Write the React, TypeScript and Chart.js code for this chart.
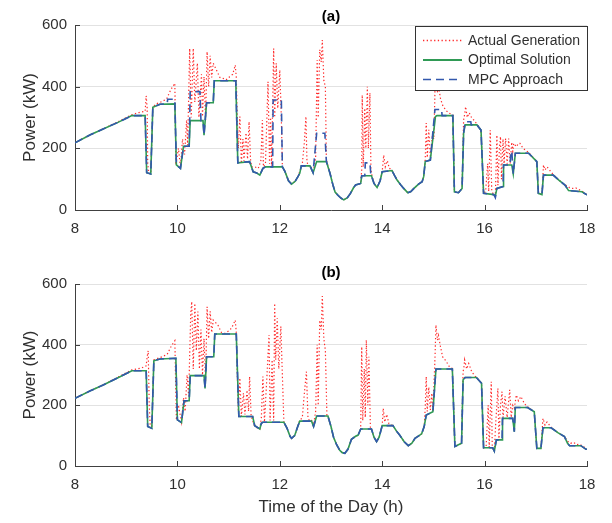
import React, { useEffect, useRef } from "react";
import { Chart, registerables } from "chart.js";
Chart.register(...registerables);

const FONT = "'Liberation Sans', Arial, Helvetica, sans-serif";
const AXIS = "#404040";
const TEXT = "#303030";
const GRID = "#e2e2e2";
const RED = "#ff2a2a";
const GREEN = "#2f9a55";
const BLUE = "#3358ad";

const xTicks = [8, 10, 12, 14, 16, 18];
const yTicks = [0, 200, 400, 600];
const legendLabels = ["Actual Generation", "Optimal Solution", "MPC Approach"];
const panelTitles = ["(a)", "(b)"];
const yTitle = "Power (kW)";
const xTitle = "Time of the Day (h)";

// ---- Panel (a): [time h, power kW]
const optimalA: [number, number][] = [
  [8.0, 218], [8.3, 244], [8.55, 263], [8.85, 285], [9.11, 306], [9.37, 306], [9.4, 121], [9.48, 117],
  [9.52, 333], [9.66, 343], [9.95, 344], [9.98, 146], [10.06, 135], [10.12, 207], [10.23, 207],
  [10.25, 290], [10.5, 290], [10.52, 243], [10.57, 348], [10.7, 348], [10.72, 419], [11.14, 419],
  [11.18, 153], [11.41, 157], [11.48, 124], [11.55, 120], [11.61, 113], [11.67, 135], [11.72, 140],
  [12.05, 140], [12.1, 125], [12.17, 95], [12.23, 84], [12.3, 93], [12.36, 110], [12.39, 119],
  [12.42, 143], [12.59, 143], [12.65, 121], [12.72, 157], [12.91, 157], [12.98, 119], [13.04, 80],
  [13.08, 58], [13.14, 47], [13.2, 38], [13.25, 33], [13.32, 40], [13.38, 54], [13.44, 72], [13.48, 81],
  [13.58, 86], [13.6, 111], [13.79, 111], [13.84, 86], [13.9, 73], [13.96, 95], [14.0, 124], [14.19, 128],
  [14.24, 112], [14.29, 97], [14.36, 82], [14.42, 70], [14.5, 56], [14.56, 60], [14.62, 70], [14.71, 84],
  [14.78, 92], [14.81, 108], [14.84, 157], [14.94, 162], [15.04, 303], [15.07, 306], [15.38, 306],
  [15.41, 59], [15.49, 56], [15.56, 70], [15.59, 249], [15.62, 276], [15.85, 276], [15.93, 259],
  [15.98, 54], [16.18, 50], [16.21, 45], [16.24, 70], [16.36, 76], [16.37, 146], [16.53, 146],
  [16.56, 117], [16.6, 184], [16.86, 184], [17.02, 157], [17.05, 54], [17.12, 50], [17.15, 113],
  [17.34, 113], [17.45, 97], [17.57, 81], [17.64, 63], [17.9, 59], [18.0, 49],
];

const mpcA: [number, number][] = [
  [8.0, 218], [8.3, 244], [8.55, 263], [8.85, 285], [9.11, 306], [9.37, 306], [9.4, 121], [9.48, 117],
  [9.52, 333], [9.66, 343], [9.8, 344], [9.81, 359], [9.95, 359], [9.98, 146], [10.06, 135],
  [10.12, 207], [10.23, 207], [10.25, 384], [10.44, 384], [10.46, 290], [10.5, 290], [10.52, 243],
  [10.57, 348], [10.7, 348], [10.72, 419], [11.14, 419], [11.18, 153], [11.41, 157], [11.48, 124],
  [11.55, 120], [11.61, 113], [11.67, 135], [11.72, 140], [11.86, 140], [11.87, 357], [12.03, 357],
  [12.05, 140], [12.1, 125], [12.17, 95], [12.23, 84], [12.3, 93], [12.36, 110], [12.39, 119],
  [12.42, 143], [12.59, 143], [12.65, 121], [12.72, 249], [12.88, 249], [12.91, 157], [12.98, 119],
  [13.04, 80], [13.08, 58], [13.14, 47], [13.2, 38], [13.25, 33], [13.32, 40], [13.38, 54], [13.44, 72],
  [13.48, 81], [13.58, 86], [13.6, 111], [13.66, 111], [13.67, 153], [13.76, 153], [13.78, 111],
  [13.79, 111], [13.84, 86], [13.9, 73], [13.96, 95], [14.0, 124], [14.19, 128], [14.24, 112],
  [14.29, 97], [14.36, 82], [14.42, 70], [14.5, 56], [14.56, 60], [14.62, 70], [14.71, 84], [14.78, 92],
  [14.81, 108], [14.84, 157], [14.94, 162], [15.03, 326], [15.16, 326], [15.17, 306], [15.38, 306],
  [15.41, 59], [15.49, 56], [15.56, 70], [15.59, 249], [15.62, 286], [15.73, 286], [15.74, 276],
  [15.85, 276], [15.93, 259], [15.98, 54], [16.18, 50], [16.21, 40], [16.24, 70], [16.36, 76],
  [16.37, 146], [16.5, 146], [16.51, 190], [16.53, 190], [16.55, 146], [16.56, 117], [16.6, 184],
  [16.86, 184], [17.02, 157], [17.05, 54], [17.12, 50], [17.15, 113], [17.34, 113], [17.45, 97],
  [17.57, 81], [17.64, 63], [17.9, 59], [18.0, 49],
];

const actualA: [number, number][] = [
  [8.0, 218], [8.3, 244], [8.55, 263], [8.85, 287], [9.11, 309], [9.25, 316], [9.37, 320], [9.39, 370],
  [9.41, 330], [9.42, 150], [9.44, 121], [9.48, 117], [9.52, 335], [9.6, 345], [9.7, 352], [9.79, 360],
  [9.87, 390], [9.95, 411], [9.97, 146], [10.02, 200], [10.06, 140], [10.1, 230], [10.14, 180],
  [10.18, 292], [10.2, 210], [10.24, 524], [10.27, 300], [10.31, 524], [10.34, 350], [10.39, 476],
  [10.42, 300], [10.47, 440], [10.49, 303], [10.52, 432], [10.55, 292], [10.58, 513], [10.61, 400],
  [10.64, 500], [10.67, 430], [10.7, 476], [10.76, 455], [10.83, 430], [10.89, 427], [10.95, 422],
  [11.02, 432], [11.08, 440], [11.13, 470], [11.15, 430], [11.17, 292], [11.19, 200], [11.22, 303],
  [11.25, 151], [11.28, 230], [11.3, 160], [11.34, 250], [11.37, 165], [11.4, 286], [11.43, 160],
  [11.45, 140], [11.51, 140], [11.58, 135], [11.63, 160], [11.66, 292], [11.68, 140], [11.72, 150],
  [11.77, 416], [11.8, 150], [11.82, 300], [11.84, 140], [11.88, 524], [11.9, 300], [11.93, 476],
  [11.96, 330], [12.0, 454], [12.03, 300], [12.05, 140], [12.1, 125], [12.17, 95], [12.23, 84],
  [12.3, 93], [12.36, 110], [12.39, 125], [12.44, 150], [12.48, 220], [12.51, 303], [12.53, 160],
  [12.55, 143], [12.59, 145], [12.65, 121], [12.7, 170], [12.73, 486], [12.75, 300], [12.78, 520],
  [12.81, 480], [12.83, 551], [12.86, 420], [12.89, 400], [12.91, 162], [12.98, 119], [13.04, 80],
  [13.08, 58], [13.14, 47], [13.2, 38], [13.25, 33], [13.32, 40], [13.38, 54], [13.44, 72], [13.48, 81],
  [13.58, 86], [13.6, 130], [13.61, 373], [13.63, 140], [13.66, 330], [13.68, 200], [13.71, 400],
  [13.73, 200], [13.76, 380], [13.78, 130], [13.8, 111], [13.84, 86], [13.9, 73], [13.96, 95],
  [14.0, 124], [14.03, 178], [14.06, 140], [14.1, 160], [14.14, 135], [14.19, 130], [14.24, 112],
  [14.29, 97], [14.36, 82], [14.42, 70], [14.5, 56], [14.56, 60], [14.62, 70], [14.71, 84], [14.78, 92],
  [14.81, 108], [14.84, 160], [14.86, 282], [14.88, 170], [14.91, 260], [14.94, 170], [14.98, 240],
  [15.01, 230], [15.03, 384], [15.05, 395], [15.08, 384], [15.11, 390], [15.14, 360], [15.18, 340],
  [15.24, 324], [15.3, 315], [15.38, 308], [15.41, 59], [15.49, 56], [15.56, 70], [15.59, 292],
  [15.61, 310], [15.63, 335], [15.66, 300], [15.7, 315], [15.75, 298], [15.8, 290], [15.85, 278],
  [15.93, 259], [15.98, 54], [16.02, 60], [16.06, 150], [16.08, 60], [16.11, 259], [16.14, 60],
  [16.18, 50], [16.21, 45], [16.24, 243], [16.26, 80], [16.29, 200], [16.31, 238], [16.33, 100],
  [16.36, 230], [16.38, 150], [16.41, 232], [16.44, 150], [16.47, 232], [16.5, 150], [16.53, 220],
  [16.55, 190], [16.57, 216], [16.62, 205], [16.66, 216], [16.69, 216], [16.75, 200], [16.86, 186],
  [17.02, 157], [17.05, 54], [17.12, 50], [17.15, 146], [17.18, 130], [17.22, 140], [17.34, 115],
  [17.45, 97], [17.57, 81], [17.62, 78], [17.66, 72], [17.72, 70], [17.78, 72], [17.84, 66],
  [17.9, 62], [18.0, 49],
];

// ---- Panel (b): [time h, power kW]
const optimalB: [number, number][] = [
  [8.0, 223], [8.3, 248], [8.55, 267], [8.85, 292], [9.11, 314], [9.39, 314], [9.42, 130], [9.5, 124],
  [9.54, 347], [9.66, 353], [9.97, 355], [10.0, 152], [10.08, 143], [10.13, 215], [10.23, 215],
  [10.25, 298], [10.52, 298], [10.54, 256], [10.57, 360], [10.71, 360], [10.73, 435], [11.15, 435],
  [11.2, 163], [11.47, 163], [11.51, 133], [11.61, 122], [11.64, 141], [11.67, 144], [12.08, 144],
  [12.14, 125], [12.2, 98], [12.23, 91], [12.29, 100], [12.34, 125], [12.39, 148], [12.62, 148],
  [12.66, 130], [12.72, 165], [12.94, 165], [13.0, 130], [13.05, 95], [13.11, 70], [13.17, 52],
  [13.22, 44], [13.27, 42], [13.33, 55], [13.4, 88], [13.48, 98], [13.53, 102], [13.58, 122],
  [13.79, 122], [13.84, 95], [13.89, 80], [13.94, 95], [14.0, 133], [14.21, 133], [14.28, 115],
  [14.34, 102], [14.43, 80], [14.51, 67], [14.58, 75], [14.64, 91], [14.72, 100], [14.77, 106],
  [14.82, 130], [14.86, 168], [14.99, 179], [15.05, 320], [15.37, 320], [15.42, 64], [15.55, 75],
  [15.58, 284], [15.62, 292], [15.84, 292], [15.94, 273], [15.98, 60], [16.16, 60], [16.19, 49],
  [16.23, 86], [16.34, 86], [16.35, 157], [16.55, 157], [16.58, 113], [16.6, 193], [16.84, 193],
  [16.97, 179], [17.02, 58], [17.1, 58], [17.14, 126], [17.3, 126], [17.43, 110], [17.56, 97],
  [17.62, 75], [17.66, 67], [17.88, 67], [17.98, 55], [18.0, 55],
];

const mpcB: [number, number][] = optimalB;

const actualB: [number, number][] = [
  [8.0, 223], [8.3, 248], [8.55, 267], [8.85, 294], [9.11, 317], [9.3, 323], [9.39, 330], [9.41, 360],
  [9.43, 380], [9.45, 200], [9.47, 130], [9.5, 124], [9.54, 350], [9.7, 360], [9.8, 368], [9.88, 395],
  [9.95, 413], [9.98, 152], [10.02, 201], [10.08, 145], [10.12, 225], [10.15, 180], [10.19, 300],
  [10.22, 230], [10.26, 500], [10.28, 542], [10.31, 320], [10.34, 536], [10.37, 380], [10.4, 509],
  [10.43, 320], [10.46, 450], [10.49, 300], [10.52, 420], [10.55, 280], [10.58, 525], [10.61, 420],
  [10.64, 510], [10.67, 440], [10.7, 481], [10.79, 465], [10.86, 440], [10.92, 437], [11.0, 445],
  [11.06, 455], [11.13, 481], [11.15, 440], [11.17, 300], [11.19, 180], [11.22, 290], [11.25, 163],
  [11.29, 240], [11.32, 170], [11.36, 250], [11.39, 180], [11.41, 295], [11.44, 165], [11.5, 135],
  [11.56, 125], [11.61, 122], [11.64, 160], [11.67, 295], [11.7, 145], [11.75, 300], [11.79, 432],
  [11.81, 150], [11.85, 350], [11.88, 150], [11.9, 536], [11.92, 350], [11.95, 487], [11.98, 320],
  [12.02, 460], [12.05, 300], [12.08, 144], [12.14, 125], [12.2, 98], [12.23, 91], [12.29, 100],
  [12.34, 125], [12.39, 150], [12.44, 160], [12.48, 240], [12.52, 311], [12.55, 160], [12.58, 148],
  [12.62, 150], [12.66, 135], [12.7, 180], [12.73, 400], [12.75, 200], [12.78, 480], [12.81, 450],
  [12.83, 560], [12.86, 420], [12.89, 380], [12.92, 168], [12.94, 165], [13.0, 130], [13.05, 95],
  [13.11, 70], [13.17, 52], [13.22, 44], [13.27, 42], [13.33, 55], [13.4, 88], [13.48, 98],
  [13.53, 102], [13.58, 122], [13.6, 393], [13.62, 150], [13.65, 320], [13.67, 160], [13.69, 415],
  [13.72, 200], [13.74, 360], [13.77, 124], [13.79, 122], [13.84, 95], [13.89, 80], [13.94, 95],
  [14.0, 133], [14.02, 190], [14.05, 145], [14.09, 170], [14.13, 140], [14.21, 133], [14.28, 115],
  [14.34, 102], [14.43, 80], [14.51, 67], [14.58, 75], [14.64, 91], [14.72, 100], [14.77, 106],
  [14.82, 130], [14.84, 190], [14.86, 295], [14.88, 180], [14.91, 260], [14.94, 185], [14.97, 240],
  [14.99, 180], [15.03, 350], [15.05, 465], [15.08, 415], [15.1, 430], [15.13, 400], [15.18, 360],
  [15.25, 345], [15.32, 325], [15.37, 322], [15.42, 64], [15.55, 75], [15.58, 311], [15.6, 330],
  [15.61, 350], [15.65, 320], [15.69, 338], [15.75, 310], [15.82, 295], [15.84, 292], [15.94, 273],
  [15.98, 60], [16.03, 64], [16.07, 200], [16.09, 62], [16.13, 278], [16.15, 60], [16.17, 55],
  [16.19, 49], [16.22, 150], [16.26, 256], [16.28, 90], [16.31, 200], [16.34, 245], [16.36, 160],
  [16.4, 230], [16.44, 160], [16.49, 251], [16.52, 160], [16.55, 200], [16.58, 190], [16.62, 234],
  [16.66, 215], [16.71, 229], [16.78, 205], [16.84, 195], [16.97, 179], [17.02, 58], [17.1, 58],
  [17.14, 157], [17.18, 135], [17.22, 145], [17.3, 128], [17.43, 110], [17.56, 97], [17.62, 82],
  [17.68, 75], [17.74, 78], [17.8, 70], [17.86, 72], [17.92, 64], [18.0, 58],
];

type Series = [number, number][];

interface PanelCfg {
  actual: Series;
  optimal: Series;
  mpc: Series;
  title: string;
  titleY: number;
  padTop: number;
  xAxisHeight: number;
  showLegend: boolean;
  showXTitle: boolean;
  xTitleY: number;
}

const toPts = (s: Series) => s.map(([x, y]) => ({ x, y }));

function makeChart(canvas: HTMLCanvasElement, cfg: PanelCfg) {
  const decor = {
    id: "decor",
    afterDraw(chart: any) {
      const ctx = chart.ctx as CanvasRenderingContext2D;
      const area = chart.chartArea;
      const xs = chart.scales.x;
      const ys = chart.scales.y;
      ctx.save();
      // inward ticks
      ctx.strokeStyle = AXIS;
      ctx.lineWidth = 1;
      ctx.setLineDash([]);
      ctx.beginPath();
      for (const t of xTicks) {
        const px = Math.round(xs.getPixelForValue(t)) + 0.5;
        ctx.moveTo(px, area.bottom);
        ctx.lineTo(px, area.bottom - 5);
      }
      for (const v of yTicks) {
        const py = Math.round(ys.getPixelForValue(v)) + 0.5;
        ctx.moveTo(area.left, py);
        ctx.lineTo(area.left + 5, py);
      }
      ctx.stroke();
      // panel title
      ctx.fillStyle = "#000";
      ctx.font = `bold 15px ${FONT}`;
      ctx.textAlign = "center";
      ctx.textBaseline = "middle";
      ctx.fillText(cfg.title, (area.left + area.right) / 2, cfg.titleY);
      // y title
      ctx.fillStyle = TEXT;
      ctx.font = `17px ${FONT}`;
      ctx.save();
      ctx.translate(30, (area.top + area.bottom) / 2);
      ctx.rotate(-Math.PI / 2);
      ctx.fillText(yTitle, 0, 0);
      ctx.restore();
      if (cfg.showXTitle) {
        ctx.fillText(xTitle, (area.left + area.right) / 2, cfg.xTitleY);
      }
      if (cfg.showLegend) {
        const bx = 415.5, by = 26.5, bw = 172, bh = 64;
        ctx.fillStyle = "#fff";
        ctx.fillRect(bx, by, bw, bh);
        ctx.strokeStyle = "#333";
        ctx.lineWidth = 1;
        ctx.strokeRect(bx, by, bw, bh);
        const rows = [40.5, 60, 79.5];
        const styles = [
          { c: RED, w: 1.3, d: [1.3, 2.4] },
          { c: GREEN, w: 2, d: [] as number[] },
          { c: BLUE, w: 1.6, d: [8, 5] },
        ];
        rows.forEach((ry, i) => {
          ctx.beginPath();
          ctx.strokeStyle = styles[i].c;
          ctx.lineWidth = styles[i].w;
          ctx.setLineDash(styles[i].d);
          ctx.moveTo(423, ry);
          ctx.lineTo(462, ry);
          ctx.stroke();
          ctx.setLineDash([]);
          ctx.fillStyle = TEXT;
          ctx.font = `14px ${FONT}`;
          ctx.textAlign = "left";
          ctx.textBaseline = "middle";
          ctx.fillText(legendLabels[i], 468, ry + 0.5);
        });
      }
      ctx.restore();
    },
  };

  return new Chart(canvas, {
    type: "line",
    data: {
      datasets: [
        {
          label: legendLabels[2],
          data: toPts(cfg.mpc),
          borderColor: BLUE,
          borderWidth: 1.6,
          borderDash: [8, 5],
          pointRadius: 0,
          tension: 0,
          order: 0,
        },
        {
          label: legendLabels[1],
          data: toPts(cfg.optimal),
          borderColor: GREEN,
          borderWidth: 1.6,
          pointRadius: 0,
          tension: 0,
          order: 1,
        },
        {
          label: legendLabels[0],
          data: toPts(cfg.actual),
          borderColor: RED,
          borderWidth: 1.2,
          borderDash: [1.3, 2.4],
          pointRadius: 0,
          tension: 0,
          order: 2,
        },
      ],
    },
    options: {
      responsive: false,
      animation: false,
      events: [],
      layout: { padding: { left: 0, right: 25, top: cfg.padTop, bottom: 0 } },
      plugins: {
        legend: { display: false },
        tooltip: { enabled: false },
        title: { display: false },
      },
      scales: {
        x: {
          type: "linear",
          min: 8,
          max: 18,
          afterBuildTicks: (s: any) => {
            s.ticks = xTicks.map((v) => ({ value: v }));
          },
          grid: { display: false, drawTicks: false },
          border: { display: true, color: AXIS, width: 1 },
          ticks: {
            font: { family: FONT, size: 15 },
            color: TEXT,
            padding: 10,
            maxRotation: 0,
            autoSkip: false,
          },
          afterFit: (s: any) => {
            s.height = cfg.xAxisHeight;
          },
        },
        y: {
          type: "linear",
          min: 0,
          max: 600,
          afterBuildTicks: (s: any) => {
            s.ticks = yTicks.map((v) => ({ value: v }));
          },
          grid: { color: GRID, drawTicks: false, lineWidth: 1 },
          border: { display: true, color: AXIS, width: 1 },
          ticks: {
            font: { family: FONT, size: 15 },
            color: TEXT,
            padding: 8,
          },
          afterFit: (s: any) => {
            s.width = 75;
          },
        },
      },
    },
    plugins: [decor],
  } as any);
}

export default function App() {
  const refA = useRef<HTMLCanvasElement>(null);
  const refB = useRef<HTMLCanvasElement>(null);

  useEffect(() => {
    const a = makeChart(refA.current!, {
      actual: actualA,
      optimal: optimalA,
      mpc: mpcA,
      title: panelTitles[0],
      titleY: 17,
      padTop: 25,
      xAxisHeight: 35,
      showLegend: true,
      showXTitle: false,
      xTitleY: 0,
    });
    const b = makeChart(refB.current!, {
      actual: actualB,
      optimal: optimalB,
      mpc: mpcB,
      title: panelTitles[1],
      titleY: 18,
      padTop: 29,
      xAxisHeight: 57,
      showLegend: false,
      showXTitle: true,
      xTitleY: 252,
    });
    return () => {
      a.destroy();
      b.destroy();
    };
  }, []);

  return (
    <div style={{ position: "absolute", left: 0, top: 0, width: 612, height: 523, background: "#fff" }}>
      <canvas
        ref={refA}
        width={612}
        height={245}
        style={{ position: "absolute", left: 0, top: 0, width: 612, height: 245, display: "block" }}
      />
      <canvas
        ref={refB}
        width={612}
        height={268}
        style={{ position: "absolute", left: 0, top: 255, width: 612, height: 268, display: "block" }}
      />
    </div>
  );
}
